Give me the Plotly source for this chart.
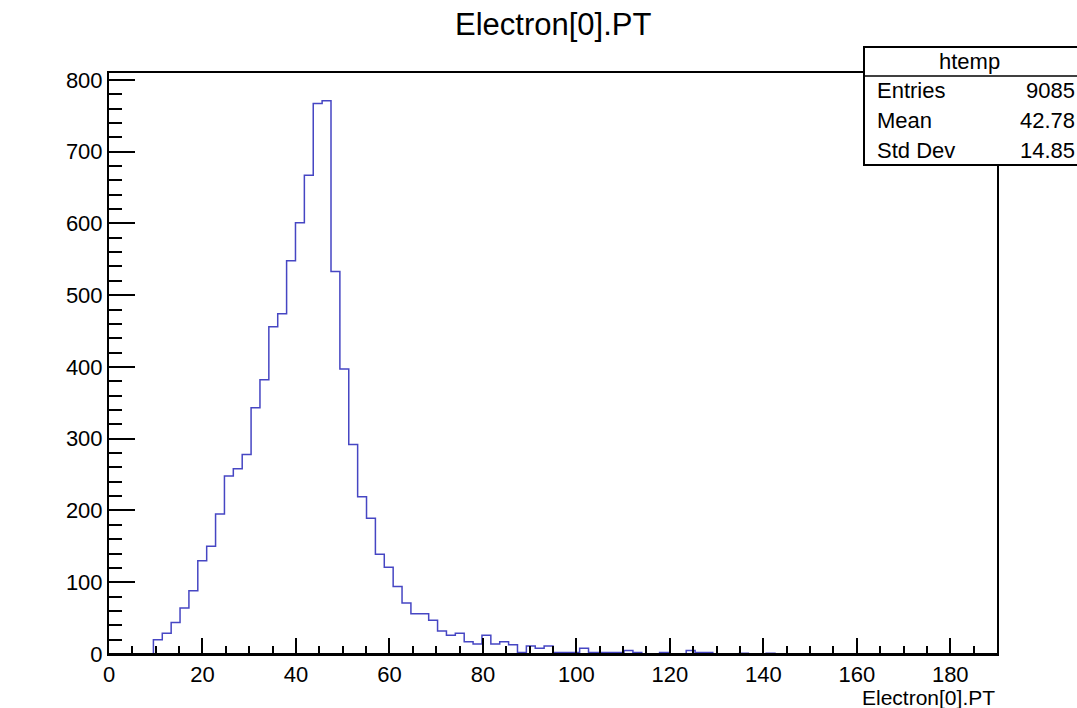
import plotly.graph_objects as go

# ---- data ----
bin_width = 1.9
x_min = 0.0
counts = [
    0, 0, 0, 0, 0, 20, 29, 44, 64, 88,
    130, 150, 195, 248, 258, 278, 343, 382, 456, 474,
    548, 601, 667, 767, 771, 533, 397, 292, 219, 189,
    139, 121, 94, 71, 56, 56, 47, 32, 26, 29,
    17, 14, 26, 14, 17, 13, 2, 11, 8, 11,
    2, 2, 2, 8, 2, 2, 2, 2, 5, 2,
    0, 0, 2, 0, 0, 5, 2, 2, 0, 0,
    0, 1, 0, 0, 1, 0, 0, 0, 0, 0,
    0, 0, 0, 0, 0, 0, 0, 0, 0, 0,
    0, 0, 0, 0, 0, 0, 0, 0, 0, 0,
]
x_ticks = [0, 20, 40, 60, 80, 100, 120, 140, 160, 180]
y_ticks = [0, 100, 200, 300, 400, 500, 600, 700, 800]
stat_title = "htemp"
stat_labels = ["Entries", "Mean", "Std Dev"]
stat_values = ["9085", "42.78", "14.85"]
title_text = "Electron[0].PT"
xaxis_title = "Electron[0].PT"

edges = [x_min + i * bin_width for i in range(len(counts) + 1)]
y_step = counts + [counts[-1]]
y_max = max(counts) * 1.05

FONT = "Liberation Sans, Arial, Helvetica, sans-serif"

fig = go.Figure()
fig.add_trace(go.Scatter(
    x=edges, y=y_step, mode="lines",
    line=dict(shape="hv", color="rgb(70,70,195)", width=1.5),
    hoverinfo="skip", showlegend=False,
))

W, H = 1077, 708
ml, mr, mt, mb = 109, 80, 73, 54
pw, ph = W - ml - mr, H - mt - mb

def px(X):
    return (X - ml) / pw

def py(Y):
    return (H - mb - Y) / ph

fig.update_layout(
    width=W, height=H,
    margin=dict(l=ml, r=mr, t=mt, b=mb, pad=0),
    paper_bgcolor="white", plot_bgcolor="white",
    font=dict(family=FONT, color="black", size=22),
    showlegend=False,
    xaxis=dict(
        range=[x_min, 190], tickvals=x_ticks, ticks="inside", ticklen=16,
        tickwidth=2, tickcolor="black", showline=True, linewidth=2,
        linecolor="black", mirror=True, showgrid=False, zeroline=False,
        tickfont=dict(size=22, family=FONT, color="black"),
        minor=dict(ticks="inside", ticklen=8, dtick=5, tick0=0,
                   tickwidth=2, tickcolor="black", showgrid=False),
    ),
    yaxis=dict(
        range=[0, y_max], tickvals=y_ticks, ticks="inside", ticklen=26,
        tickwidth=2, tickcolor="black", showline=True, linewidth=2,
        linecolor="black", mirror=True, showgrid=False, zeroline=False,
        tickfont=dict(size=22, family=FONT, color="black"),
        minor=dict(ticks="inside", ticklen=13, dtick=20, tick0=0,
                   tickwidth=2, tickcolor="black", showgrid=False),
    ),
)

annotations = [
    dict(text=title_text, x=0.5, y=py(25), xref="paper", yref="paper",
         xanchor="center", yanchor="middle", showarrow=False,
         font=dict(size=31, family=FONT, color="black")),
    dict(text=xaxis_title, x=1.0, y=py(697), xref="paper", yref="paper",
         xanchor="right", yanchor="middle", showarrow=False,
         font=dict(size=21, family=FONT, color="black")),
    dict(text=stat_title, x=px(969), y=py(61), xref="paper", yref="paper",
         xanchor="center", yanchor="middle", showarrow=False,
         font=dict(size=22, family=FONT, color="black")),
]
row_y = [91, 121, 150]
for lab, val, yy in zip(stat_labels, stat_values, row_y):
    annotations.append(dict(text=lab, x=px(875), y=py(yy), xref="paper", yref="paper",
                            xanchor="left", yanchor="middle", showarrow=False,
                            font=dict(size=22, family=FONT, color="black")))
    annotations.append(dict(text=val, x=px(1077), y=py(yy), xref="paper", yref="paper",
                            xanchor="right", yanchor="middle", showarrow=False,
                            font=dict(size=22, family=FONT, color="black")))
fig.update_layout(annotations=annotations)

fig.update_layout(shapes=[
    # frame baseline drawn over the histogram's zero level (as ROOT's frame does)
    dict(type="line", xref="paper", yref="y", x0=0, x1=1, y0=0, y1=0,
         line=dict(color="black", width=2), layer="above"),
    dict(type="rect", xref="paper", yref="paper", x0=px(864), x1=px(1090),
         y0=py(165), y1=py(47), line=dict(color="black", width=2),
         fillcolor="white", layer="above"),
    dict(type="line", xref="paper", yref="paper", x0=px(864), x1=px(1090),
         y0=py(76), y1=py(76), line=dict(color="black", width=1.5), layer="above"),
])

fig.write_html("out.html")
